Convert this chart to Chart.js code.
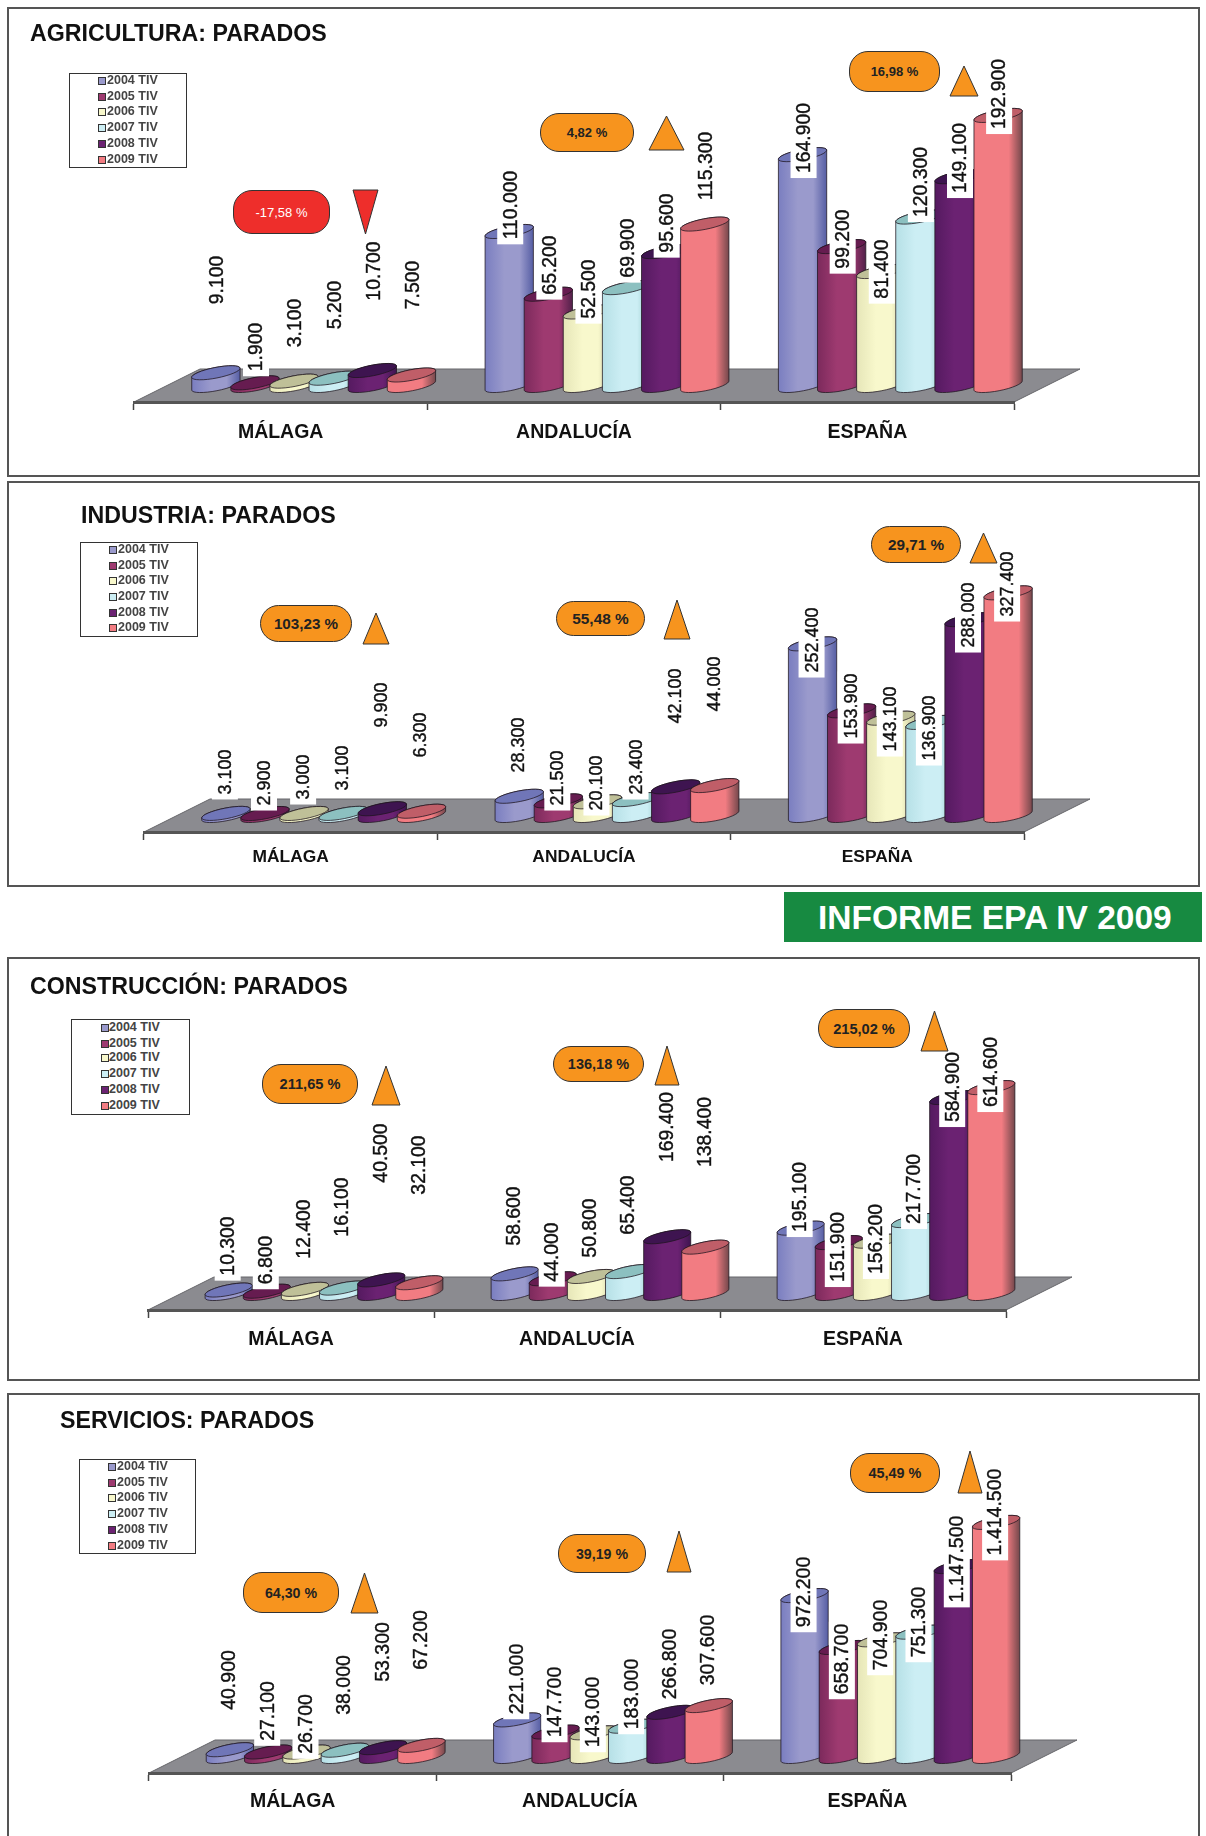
<!DOCTYPE html>
<html>
<head>
<meta charset="utf-8">
<title>Informe EPA IV 2009</title>
<script src="https://cdn.jsdelivr.net/npm/chart.js@4"></script>
<style>
html, body { margin: 0; padding: 0; background: #fff; }
body { position: relative; width: 1206px; height: 1836px; overflow: hidden; font-family: "Liberation Sans", Arial, sans-serif; }
.panel { position: absolute; left: 7px; width: 1193px; border: 2px solid #555; box-sizing: border-box; }
.holder { position: absolute; left: 0; width: 1206px; }
.title { position: absolute; font-weight: bold; color: #111; white-space: nowrap; line-height: 1; transform: translateY(-50%); }
.legend { position: absolute; border: 1.5px solid #333; box-sizing: border-box; background: #fff; }
.legend div { position: absolute; font-weight: bold; font-size: 12.5px; line-height: 1; color: #444; white-space: nowrap; transform: translateY(-50%); }
.legend i { position: absolute; width: 6px; height: 6px; border: 1px solid #333; transform: translateY(-50%); }
.badge { position: absolute; box-sizing: border-box; border: 1.5px solid #333; border-radius: 19px; background: #F7941E; color: #222; font-weight: bold; display: flex; align-items: center; justify-content: center; white-space: nowrap; }
.badge.down { background: #EE2E2B; color: #fff; }
svg.tri { position: absolute; overflow: visible; }
#banner { position: absolute; left: 784px; top: 892px; width: 418px; height: 50px; background: #178A41; color: #fff; font-weight: bold; font-size: 33.5px; line-height: 52px; text-indent: 34px; white-space: nowrap; }
</style>
</head>
<body>
<div id="banner">INFORME EPA IV 2009</div>
<script>
var categories = ['MÁLAGA', 'ANDALUCÍA', 'ESPAÑA'];
var seriesNames = ['2004 TIV', '2005 TIV', '2006 TIV', '2007 TIV', '2008 TIV', '2009 TIV'];

// one row per series, one column per category
var agricultura = [
    [9100, 110000, 164900],
    [1900, 65200, 99200],
    [3100, 52500, 81400],
    [5200, 69900, 120300],
    [10700, 95600, 149100],
    [7500, 115300, 192900]
];
var industria = [
    [3100, 28300, 252400],
    [2900, 21500, 153900],
    [3000, 20100, 143100],
    [3100, 23400, 136900],
    [9900, 42100, 288000],
    [6300, 44000, 327400]
];
var construccion = [
    [10300, 58600, 195100],
    [6800, 44000, 151900],
    [12400, 50800, 156200],
    [16100, 65400, 217700],
    [40500, 169400, 584900],
    [32100, 138400, 614600]
];
var servicios = [
    [40900, 221000, 972200],
    [27100, 147700, 658700],
    [26700, 143000, 704900],
    [38000, 183000, 751300],
    [53300, 266800, 1147500],
    [67200, 307600, 1414500]
];

var barColors = ['#9A9ACC', '#9E3A70', '#F8F8CC', '#CCEEF4', '#6B2272', '#F27C82'];
var barLeft = ['#7A7EC0', '#7C2A5C', '#E6E6B8', '#B6E0E6', '#551A60', '#F27C82'];
var barRight = ['#565EA4', '#52204A', '#C8C89E', '#8EC4C4', '#3E1450', '#74484C'];
var barTop = ['#7076B8', '#661C50', '#BFC098', '#8CC0C0', '#3E1450', '#C05E68'];

// page y of the centre of every value label (same order as the values)
var panels = [
    {
        title: 'AGRICULTURA: PARADOS', titleX: 30, titleY: 34, titleSize: 23.2,
        top: 7, bottom: 477, values: agricultura, yMax: 250000, yPixels: 350,
        left: 134, right: 1014, front: 402, labelSize: 19.4, labelDx: 1, catSize: 19.5, catPad: 11,
        legend: [69, 73, 118, 95, 99, 108],
        legendRows: [81, 97, 112, 128, 144, 160],
        labelY: [[280, 205, 138], [347, 265, 239], [323, 289, 269], [305, 248, 182], [271, 223, 158], [285, 166, 94]],
        badges: [
            { text: '-17,58 %', box: [233, 190, 97, 44], size: 13, tri: [353, 190, 25, 44], down: true },
            { text: '4,82 %', box: [540, 113, 94, 39], size: 13, tri: [649, 116, 35, 34] },
            { text: '16,98 %', box: [849, 51, 91, 41], size: 13, tri: [950, 66, 28, 30] }
        ]
    },
    {
        title: 'INDUSTRIA: PARADOS', titleX: 81, titleY: 516, titleSize: 23.2,
        top: 481, bottom: 887, values: industria, yMax: 500000, yPixels: 340,
        left: 144, right: 1024, front: 832, labelSize: 18, labelDx: -1, catSize: 17.4, catPad: 7,
        legend: [80, 542, 118, 95, 110, 119],
        legendRows: [550, 566, 581, 597, 613, 628],
        labelY: [[772, 745, 640], [783, 778, 706], [777, 783, 719], [768, 767, 728], [705, 696, 615], [735, 684, 584]],
        badges: [
            { text: '103,23 %', box: [260, 605, 92, 37], size: 15.2, tri: [363, 613, 26, 31] },
            { text: '55,48 %', box: [556, 601, 89, 35], size: 15.4, tri: [664, 600, 26, 39] },
            { text: '29,71 %', box: [871, 526, 90, 37], size: 15.3, tri: [970, 533, 27, 30] }
        ]
    },
    {
        title: 'CONSTRUCCIÓN: PARADOS', titleX: 30, titleY: 987, titleSize: 23.2,
        top: 957, bottom: 1381, values: construccion, yMax: 1000000, yPixels: 335,
        left: 148, right: 1006, front: 1310, labelSize: 19.4, labelDx: -1, catSize: 19.5, catPad: 10,
        legend: [71, 1019, 119, 96, 102, 110],
        legendRows: [1028, 1044, 1058, 1074, 1090, 1106],
        labelY: [[1246, 1216, 1197], [1260, 1252, 1247], [1229, 1228, 1239], [1207, 1205, 1189], [1153, 1127, 1087], [1165, 1132, 1072]],
        badges: [
            { text: '211,65 %', box: [262, 1064, 96, 40], size: 14.6, tri: [372, 1066, 28, 39] },
            { text: '136,18 %', box: [553, 1046, 91, 36], size: 14.5, tri: [655, 1046, 24, 39] },
            { text: '215,02 %', box: [818, 1009, 92, 39], size: 14.6, tri: [921, 1011, 27, 40] }
        ]
    },
    {
        title: 'SERVICIOS: PARADOS', titleX: 60, titleY: 1421, titleSize: 23.2,
        top: 1393, bottom: 1860, values: servicios, yMax: 2000000, yPixels: 331,
        left: 149, right: 1011, front: 1773, labelSize: 19.5, labelDx: -1, catSize: 19.5, catPad: 9,
        legend: [79, 1459, 117, 95, 109, 118],
        legendRows: [1467, 1483, 1498, 1514, 1530, 1546],
        labelY: [[1680, 1679, 1592], [1711, 1702, 1659], [1724, 1712, 1635], [1685, 1694, 1622], [1652, 1664, 1559], [1640, 1650, 1512]],
        badges: [
            { text: '64,30 %', box: [243, 1572, 96, 41], size: 14.2, tri: [351, 1573, 27, 40] },
            { text: '39,19 %', box: [558, 1534, 88, 39], size: 14.2, tri: [667, 1531, 24, 41] },
            { text: '45,49 %', box: [850, 1453, 90, 40], size: 14.4, tri: [958, 1451, 24, 42] }
        ]
    }
];

function formatValue(v) {
    return String(v).replace(/\B(?=(\d{3})+(?!\d))/g, '.');
}

function addDiv(cls, css, text) {
    var d = document.createElement('div');
    d.className = cls;
    d.style.cssText = css;
    if (text) d.textContent = text;
    document.body.appendChild(d);
    return d;
}

// draws the grey floor, the cylinders and the value labels in place of the flat bars
var cylinders = {
    id: 'cylinders',
    beforeDatasetsDraw: function (chart, args, opts) {
        var ctx = chart.ctx, a = chart.chartArea;
        var depthX = 66, depthY = 33, tilt = 9.5, ry = 5.3;
        ctx.save();
        ctx.beginPath();
        ctx.moveTo(a.left, a.bottom);
        ctx.lineTo(a.right, a.bottom);
        ctx.lineTo(a.right + depthX, a.bottom - depthY);
        ctx.lineTo(a.left + depthX, a.bottom - depthY);
        ctx.closePath();
        ctx.fillStyle = '#8B8B90';
        ctx.fill();
        ctx.strokeStyle = '#66666a';
        ctx.lineWidth = 1;
        ctx.stroke();

        for (var c = 0; c < categories.length; c++) {
            for (var s = 0; s < chart.data.datasets.length; s++) {
                var el = chart.getDatasetMeta(s).data[c];
                var w = el.width * 1.235;
                var x = el.x + depthX / 2;
                var yT = el.y - depthY / 2;
                var yB = el.base - depthY / 2;
                var rx = Math.sqrt(w * w + tilt * tilt) / 2;
                var rot = Math.atan2(-tilt, w);
                var g = ctx.createLinearGradient(x - w / 2, 0, x + w / 2, 0);
                g.addColorStop(0, barLeft[s]);
                g.addColorStop(0.4, barColors[s]);
                g.addColorStop(0.72, barColors[s]);
                g.addColorStop(1, barRight[s]);
                ctx.beginPath();
                ctx.moveTo(x - w / 2, yT + tilt / 2);
                ctx.lineTo(x - w / 2, yB + tilt / 2);
                ctx.ellipse(x, yB, rx, ry, rot, Math.PI, 0, true);
                ctx.lineTo(x + w / 2, yT - tilt / 2);
                ctx.ellipse(x, yT, rx, ry, rot, 0, Math.PI, true);
                ctx.closePath();
                ctx.fillStyle = g;
                ctx.fill();
                ctx.strokeStyle = 'rgba(30,20,30,0.75)';
                ctx.lineWidth = 1;
                ctx.stroke();
                ctx.beginPath();
                ctx.ellipse(x, yT, rx, ry, rot, 0, Math.PI * 2);
                ctx.fillStyle = barTop[s];
                ctx.fill();
                ctx.stroke();
            }
        }

        // value labels go last so their white boxes sit over the bars
        ctx.font = opts.labelSize + 'px "Liberation Sans"';
        ctx.textAlign = 'center';
        ctx.textBaseline = 'middle';
        for (var i = 0; i < chart.data.datasets.length; i++) {
            for (var j = 0; j < categories.length; j++) {
                var bar = chart.getDatasetMeta(i).data[j];
                var text = formatValue(chart.data.datasets[i].data[j]);
                var len = ctx.measureText(text).width;
                var lx = bar.x + depthX / 2 + opts.labelDx;
                var ly = opts.labelY[i][j] - opts.canvasTop;
                ctx.fillStyle = '#fff';
                ctx.fillRect(lx - 13, ly - len / 2 - 2, 26, len + 7);
                ctx.save();
                ctx.translate(lx, ly);
                ctx.rotate(-Math.PI / 2);
                ctx.fillStyle = '#111';
                ctx.strokeStyle = '#111';
                ctx.lineWidth = 0.4;
                ctx.fillText(text, 0, 1);
                ctx.strokeText(text, 0, 1);
                ctx.restore();
            }
        }
        ctx.restore();
        return false;
    }
};

panels.forEach(function (p) {
    addDiv('panel', 'top:' + p.top + 'px;height:' + (p.bottom - p.top) + 'px');

    var holder = addDiv('holder', 'top:' + p.top + 'px');
    var canvas = document.createElement('canvas');
    var height = p.bottom - p.top;
    var axisHeight = 50;
    canvas.width = 1206;
    canvas.height = height;
    holder.appendChild(canvas);

    addDiv('title', 'left:' + p.titleX + 'px;top:' + p.titleY + 'px;font-size:' + p.titleSize + 'px', p.title);

    var lg = addDiv('legend', 'left:' + p.legend[0] + 'px;top:' + p.legend[1] + 'px;width:' + p.legend[2] + 'px;height:' + p.legend[3] + 'px');
    seriesNames.forEach(function (name, i) {
        var sw = document.createElement('i');
        sw.style.cssText = 'left:' + (p.legend[4] - p.legend[0] - 2) + 'px;top:' + (p.legendRows[i] - p.legend[1] - 1) + 'px;background:' + barColors[i];
        lg.appendChild(sw);
        var t = document.createElement('div');
        t.style.cssText = 'left:' + (p.legend[5] - p.legend[0] - 2) + 'px;top:' + (p.legendRows[i] - p.legend[1] - 2) + 'px';
        t.textContent = name;
        lg.appendChild(t);
    });

    p.badges.forEach(function (b) {
        addDiv('badge' + (b.down ? ' down' : ''), 'left:' + b.box[0] + 'px;top:' + b.box[1] + 'px;width:' + b.box[2] + 'px;height:' + b.box[3] + 'px;font-size:' + b.size + 'px;' + (b.down ? 'font-weight:normal;' : ''), b.text);
        var pts = b.down
            ? '0,0 ' + b.tri[2] + ',0 ' + (b.tri[2] / 2) + ',' + b.tri[3]
            : (b.tri[2] / 2) + ',0 ' + b.tri[2] + ',' + b.tri[3] + ' 0,' + b.tri[3];
        var fill = b.down ? '#EE2E2B' : '#F7941E';
        var wrap = document.createElement('div');
        wrap.innerHTML = '<svg class="tri" style="left:' + b.tri[0] + 'px;top:' + b.tri[1] + 'px" width="' + b.tri[2] + '" height="' + b.tri[3] + '"><polygon points="' + pts + '" fill="' + fill + '" stroke="#333" stroke-width="1"/></svg>';
        document.body.appendChild(wrap.firstChild);
    });

    var front = p.front - p.top;
    new Chart(canvas, {
        type: 'bar',
        data: {
            labels: categories,
            datasets: seriesNames.map(function (name, i) {
                return {
                    label: name,
                    data: p.values[i],
                    backgroundColor: barColors[i],
                    categoryPercentage: 0.8,
                    barPercentage: 1
                };
            })
        },
        options: {
            responsive: false,
            animation: false,
            events: [],
            layout: {
                padding: {
                    left: p.left,
                    right: 1206 - p.right,
                    top: front - p.yPixels,
                    bottom: height - front - axisHeight
                }
            },
            scales: {
                x: {
                    afterFit: function (scale) { scale.height = axisHeight; },
                    grid: { drawOnChartArea: false, tickLength: 8, tickColor: '#444', tickWidth: 1.5 },
                    border: { display: true, color: '#555', width: 3, z: 1 },
                    ticks: { color: '#111', padding: p.catPad, maxRotation: 0, font: { family: '"Liberation Sans"', size: p.catSize, weight: 'bold' } }
                },
                y: { display: false, min: 0, max: p.yMax }
            },
            plugins: {
                legend: { display: false },
                tooltip: { enabled: false },
                cylinders: { labelY: p.labelY, labelSize: p.labelSize, labelDx: p.labelDx, canvasTop: p.top }
            }
        },
        plugins: [cylinders]
    });
});
</script>
</body>
</html>
